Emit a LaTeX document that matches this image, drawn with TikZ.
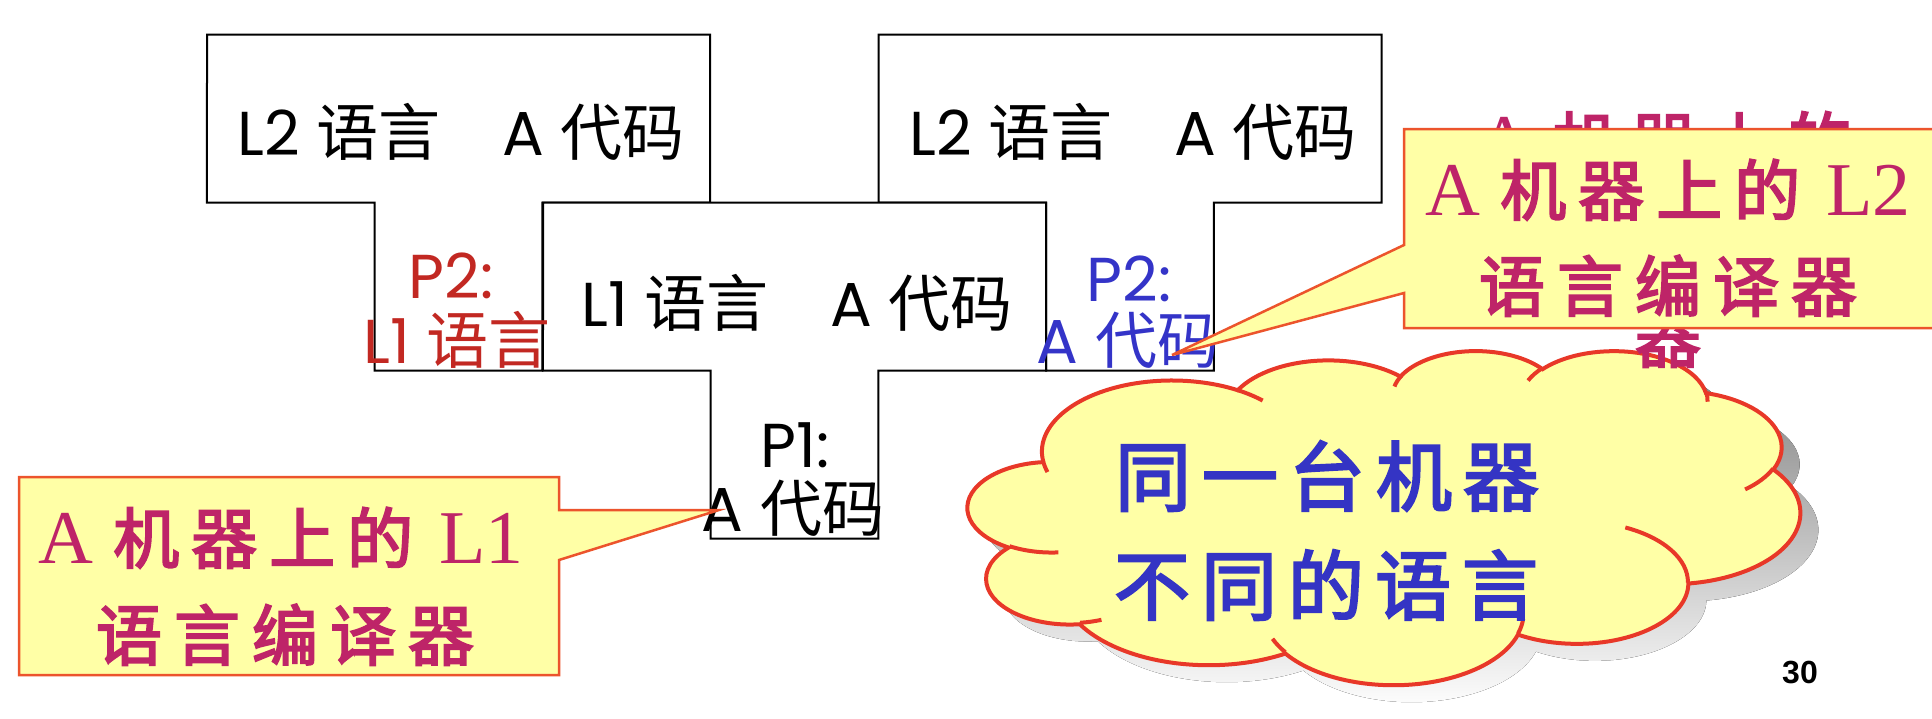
\documentclass[tikz,border=0pt]{standalone}
\usepackage{fontspec}
\setmainfont{Poppins}
\newfontfamily\cjk{Noto Sans CJK SC}
\newfontfamily\cjkheavy[FakeBold=3]{Noto Sans CJK SC}
\newfontfamily\romfont{Liberation Serif}
\newfontfamily\pagenumfont{Liberation Sans}

\definecolor{tred}{RGB}{194,40,34}
\definecolor{tblue}{RGB}{52,52,200}
\definecolor{calltext}{RGB}{190,36,104}
\definecolor{callfill}{RGB}{255,255,166}
\definecolor{callline}{RGB}{236,84,44}
\definecolor{cloudline}{RGB}{232,56,40}
\definecolor{cloudtext}{RGB}{52,52,196}
\definecolor{shade}{RGB}{128,128,128}

% parametric angle of an ellipse point given its visual angle
\pgfmathdeclarefunction{pang}{3}{%
  \begingroup
    \pgfmathparse{atan2((#1)*sin(#3),(#2)*cos(#3))}%
    \let\pangt\pgfmathresult
    \pgfmathparse{\pangt+360*round(((#3)-\pangt)/360)}%
    \pgfmathsmuggle\pgfmathresult
  \endgroup}

\newcommand\earc[4]{arc[x radius=#1pt, y radius=#2pt, start angle={pang(#1,#2,#3)}, end angle={pang(#1,#2,#4)}]}

% cloud outline in a 432 x 432 frame
\newcommand\cloudpath{(39.00,143.70)
  \earc{67.53}{91.90}{-190.48748}{-66.70695}
  \earc{53.33}{72.67}{-144.10238}{-54.15715}
  \earc{43.65}{59.45}{-145.80792}{-46.08490}
  \earc{48.57}{65.95}{-130.98607}{-13.74434}
  \earc{53.33}{72.73}{-78.70888}{30.31804}
  \earc{67.75}{92.20}{-46.26725}{84.00175}
  \earc{57.85}{78.67}{0.62502}{114.65835}
  \earc{67.52}{92.15}{22.45160}{137.62415}
  \earc{77.20}{105.43}{66.24263}{141.95365}
  \earc{43.60}{59.18}{-274.94208}{-128.20651}
  \earc{43.45}{59.45}{-246.82850}{-94.30965}
  -- cycle}

% folds drawn inside the cloud
\newcommand\cloudfolds{
  (46.93,261.77) \earc{43.45}{59.45}{86.74200}{113.17150}
  (69.28,348.99) \earc{43.60}{59.18}{73.61047}{85.05794}
  (164.78,390.90) \earc{67.52}{92.15}{137.62415}{151.70525}
  (288.27,347.51) \earc{67.52}{92.15}{6.45327}{22.45162}
  (341.29,229.54) \earc{57.85}{78.67}{-70.29235}{0.62502}
  (417.98,153.54) \earc{53.33}{72.73}{30.31803}{58.06953}
  (383.24,54.26) \earc{48.57}{65.95}{-13.74433}{1.11457}
  (290.78,39.52) \earc{48.57}{65.95}{-149.18145}{-130.98608}
  (221.41,47.20) \earc{43.65}{59.45}{-163.49427}{-145.80792}
  (140.00,51.92) \earc{67.53}{91.90}{-66.70695}{-54.38760}
  (41.27,157.89) \earc{67.53}{91.90}{157.65435}{169.51252}}

% T-shaped compiler diagram: top-left corner at (#1,#2)
\newcommand\tshape[2]{\draw[tline] (#1,#2) -- ++(503,0) -- ++(0,168) -- ++(-167.67,0)
  -- ++(0,168) -- ++(-167.67,0) -- ++(0,-168) -- ++(-167.67,0) -- cycle;}

\newcommand\ka[1]{\makebox[78pt]{#1}}
\newcommand\kb[1]{\makebox[87pt]{#1}}
\newcommand\rom[1]{{\romfont\fontsize{76}{90}\selectfont #1}}

\begin{document}
\begin{tikzpicture}[x=1pt, y=1pt, yscale=-1,
  tline/.style={draw=black, line width=2pt, fill=white, line join=miter},
  tlabel/.style={font=\fontsize{62}{74}\selectfont, inner sep=0pt},
  callbox/.style={draw=callline, line width=2.5pt, fill=callfill, line join=miter},
  calltxt/.style={font=\cjkheavy\fontsize{66}{97.5}\selectfont, text=calltext, inner sep=0pt},
  cloudtxt/.style={font=\cjkheavy\fontsize{76}{90}\selectfont, text=cloudtext, inner sep=0pt}]

\fill[white] (0,0) rectangle (1932,718);
\useasboundingbox (0,0) rectangle (1932,718);

% three T diagrams
\tshape{207}{34.5}
\tshape{878.5}{34.5}
\tshape{543}{202.5}

% labels in the T diagrams
\node[tlabel] (ltop) at (461,132) {L2 {\cjk 语言}\hspace{62pt}A {\cjk 代码}};
\node[tlabel] (rtop) at (1133,132) {L2 {\cjk 语言}\hspace{62pt}A {\cjk 代码}};
\node[tlabel] (mtop) at (797,303) {L1 {\cjk 语言}\hspace{62pt}A {\cjk 代码}};
\node[tlabel, text=tred] (lp) at (451,276) {P2:};
\node[tlabel, text=tred] (ll) at (457,340) {L1 {\cjk 语言}};
\node[tlabel, text=tblue] (rp) at (1129,279) {P2:};
\node[tlabel, text=tblue] (rl) at (1128,340) {A {\cjk 代码}};
\node[tlabel] (mp) at (795,445) {P1:};
\node[tlabel] (ml) at (793,508) {A {\cjk 代码}};

% callout for the L1 compiler
\coordinate (tip1) at (719,510);
\draw[callbox] (19,477) -- (559,477) -- (559,510) -- (tip1) -- (559,560) -- (559,675) -- (19,675) -- cycle;
\node[calltxt, anchor=base] (c1a) at (281,563) {\rom{A}\hspace{14pt}\ka{机}\ka{器}\ka{上}\ka{的}\hspace{20pt}\rom{L1}};
\node[calltxt, anchor=base] (c1b) at (285,660) {\ka{语}\ka{言}\ka{编}\ka{译}\ka{器}};

% cloud with its shadow
\begin{scope}[shift={(986,367)}, xscale=1.92593, yscale=0.77315]
  \fill[shade] \cloudpath;
\end{scope}
\begin{scope}[shift={(968,350)}, xscale=1.92593, yscale=0.77315]
  \draw[cloudline, line width=4pt, fill=callfill] \cloudpath;
  \draw[cloudline, line width=4pt] \cloudfolds;
\end{scope}
\node[cloudtxt, anchor=base] (k1) at (1327,505) {\kb{同}\kb{一}\kb{台}\kb{机}\kb{器}};
\node[cloudtxt, anchor=base] (k2) at (1326,614) {\kb{不}\kb{同}\kb{的}\kb{语}\kb{言}};

% earlier text block behind the L2 callout
\node[calltxt, align=center] (ghost) at (1668,239.5)
  {\rom{A}\hspace{14pt}\ka{机}\ka{器}\ka{上}\ka{的}\\ \rom{L2}\hspace{20pt}\ka{语}\ka{言}\ka{编}\ka{译}\\ \ka{器}};

% callout for the L2 compiler
\coordinate (tip2) at (1172,355);
\draw[callbox] (1404,129) -- (1945,129) -- (1945,328) -- (1404,328) -- (1404,293) -- (tip2) -- (1404,245) -- cycle;
\node[calltxt, anchor=base] (c2a) at (1668,215) {\rom{A}\hspace{14pt}\ka{机}\ka{器}\ka{上}\ka{的}\hspace{20pt}\rom{L2}};
\node[calltxt, anchor=base] (c2b) at (1668,311) {\ka{语}\ka{言}\ka{编}\ka{译}\ka{器}};

% page number
\node[font=\pagenumfont\bfseries\fontsize{32}{38}\selectfont, inner sep=0pt] (pg) at (1800,672) {30};
\end{tikzpicture}
\end{document}
